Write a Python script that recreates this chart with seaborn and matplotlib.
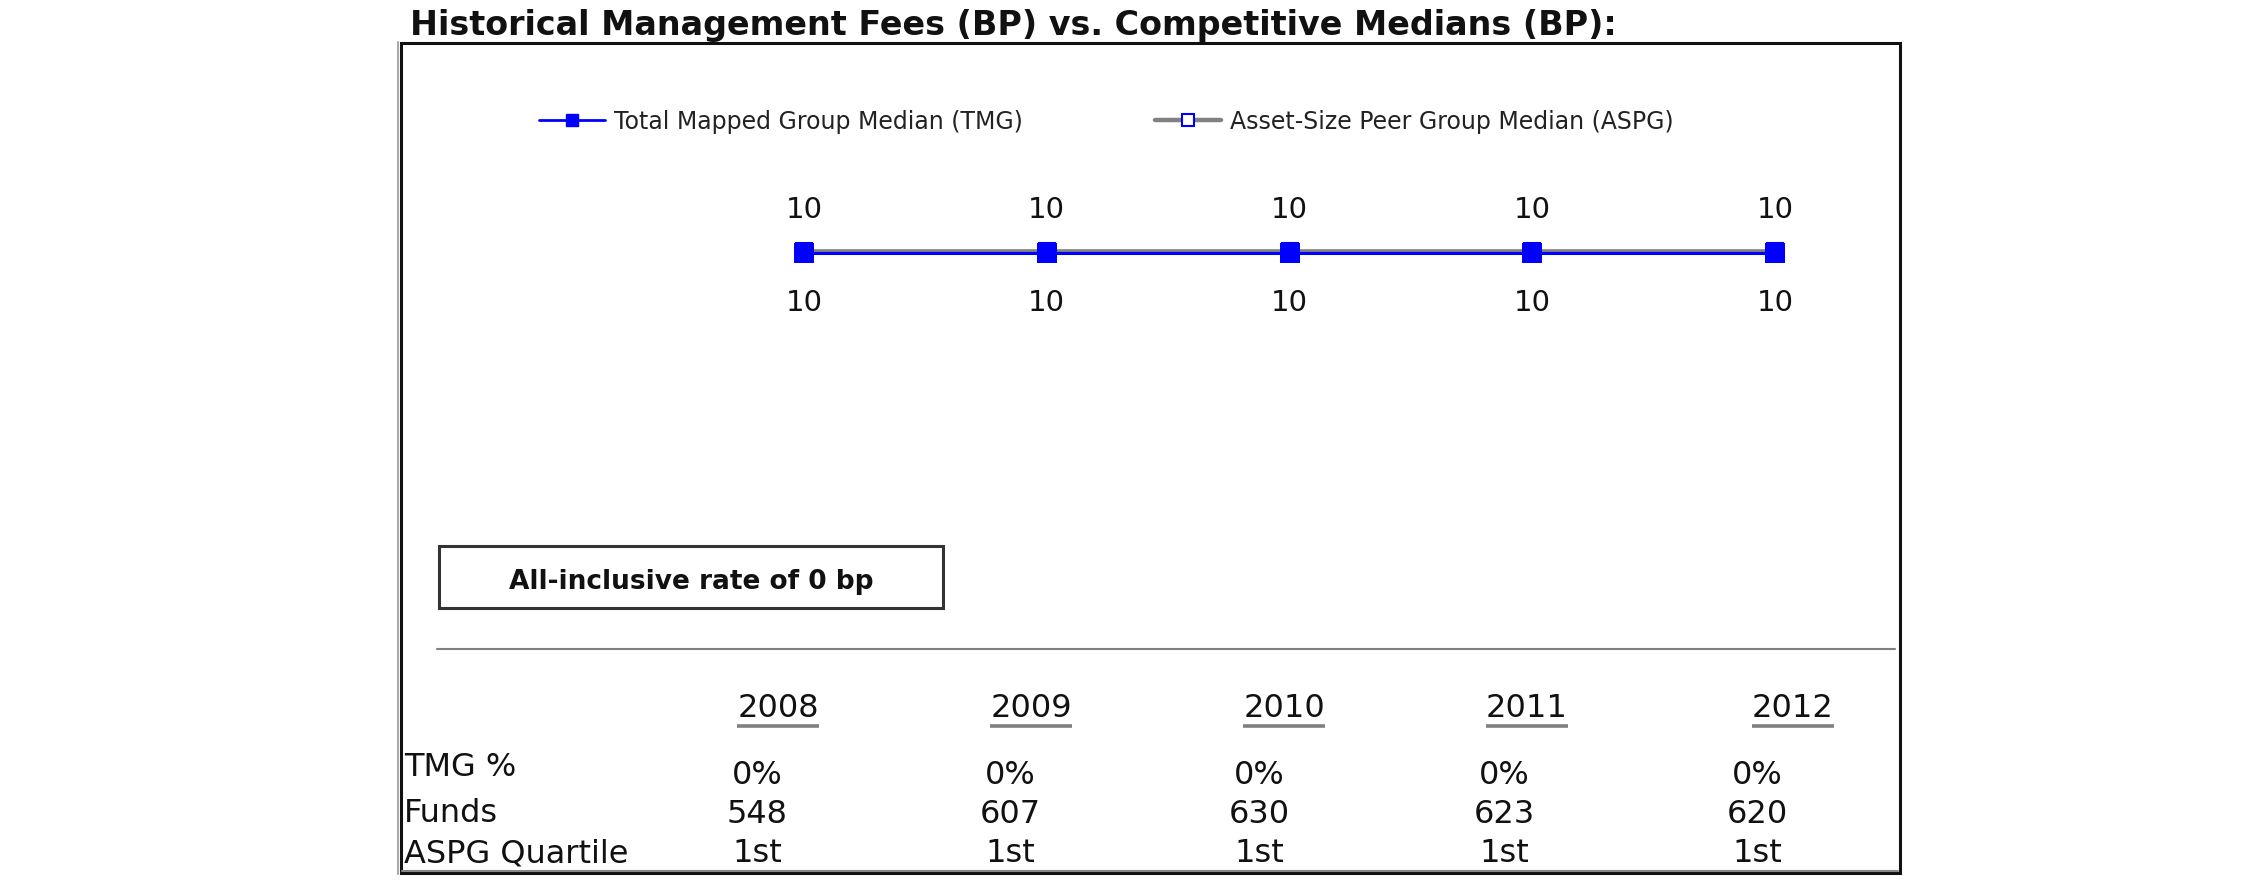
import matplotlib
matplotlib.use("Agg")
import matplotlib.pyplot as plt
import matplotlib.transforms as mtransforms
import seaborn as sns
import pandas as pd
from matplotlib.patches import Rectangle
from matplotlib.lines import Line2D

# ---------------- data ----------------
years = ["2008", "2009", "2010", "2011", "2012"]
tmg_median = [10, 10, 10, 10, 10]
aspg_median = [10, 10, 10, 10, 10]
tmg_pct = ["0%", "0%", "0%", "0%", "0%"]
funds = [548, 607, 630, 623, 620]
aspg_quartile = ["1st", "1st", "1st", "1st", "1st"]
all_inclusive_bp = 0
row_labels = ["TMG %", "Funds", "ASPG Quartile"]
title = "Historical Management Fees (BP) vs. Competitive Medians (BP):"
legend_labels = ["Total Mapped Group Median (TMG)", "Asset-Size Peer Group Median (ASPG)"]

# ---------------- setup ----------------
sns.set_theme(style="white")
plt.rcParams["font.family"] = ["DejaVu Sans"]

W, H = 2250, 895
fig = plt.figure(figsize=(W / 100, H / 100), dpi=100)
fig.patch.set_facecolor("white")


def fx(x):
    return x / W


def fy(y):
    return 1 - y / H


BLUE = "#0000ff"
GRAY = "#808080"

# ---------------- chart axes ----------------
x0, x1, yline = 804, 1775, 254
ax = fig.add_axes([fx(x0), fy(yline) - 0.1, fx(x1) - fx(x0), 0.2])

df = pd.DataFrame({"pos": range(len(years)), "year": years,
                   "TMG": tmg_median, "ASPG": aspg_median})

sns.lineplot(data=df, x="pos", y="ASPG", ax=ax, color=GRAY, linewidth=2.6,
             marker="s", markersize=12, markerfacecolor="white",
             markeredgecolor=BLUE, markeredgewidth=1.5, clip_on=False,
             zorder=2)
ax.lines[-1].set_transform(mtransforms.offset_copy(ax.transData, fig=fig,
                                                   x=0, y=1.6, units="dots"))
sns.lineplot(data=df, x="pos", y="TMG", ax=ax, color=BLUE, linewidth=2.2,
             marker="s", markersize=15, markerfacecolor=BLUE,
             markeredgecolor=BLUE, markeredgewidth=0, clip_on=False,
             zorder=3)
ax.set_xlim(0, len(years) - 1)
ax.set_ylim(9, 11)
ax.axis("off")
if ax.get_legend() is not None:
    ax.get_legend().remove()

for i, (t, a) in enumerate(zip(tmg_median, aspg_median)):
    ax.annotate(f"{t}", (i, t), xytext=(0, 31.5), textcoords="offset points",
                ha="center", va="center", fontsize=21, color="#111111")
    ax.annotate(f"{a}", (i, a), xytext=(0, -35), textcoords="offset points",
                ha="center", va="center", fontsize=21, color="#111111")

# ---------------- legend ----------------
handles = [
    Line2D([], [], color=BLUE, lw=2.0, marker="s", markersize=8,
           markerfacecolor=BLUE, markeredgecolor=BLUE),
    Line2D([], [], color=GRAY, lw=3.2, marker="s", markersize=8,
           markerfacecolor="white", markeredgecolor=BLUE, markeredgewidth=1.5),
]
leg_fs = 17
fs_px = leg_fs * 100 / 72
fig.legend(handles, legend_labels, loc="center left",
           bbox_to_anchor=(fx(539), fy(122)), ncol=2, frameon=False,
           fontsize=leg_fs, handlelength=66 / fs_px, handletextpad=9 / fs_px,
           columnspacing=132 / fs_px, borderpad=0, borderaxespad=0,
           labelcolor="#222222")

# ---------------- title ----------------
fig.text(fx(410), fy(25), title, fontsize=24, fontweight="bold",
         ha="left", va="center", color="#111111")

# ---------------- outer frame ----------------
fig.add_artist(Line2D([fx(397.5), fx(397.5)], [fy(43), fy(875)],
                      transform=fig.transFigure, color="#aaaaaa", lw=1.5))
fig.add_artist(Rectangle((fx(400.5), fy(873.5)), fx(1900) - fx(400.5),
                         fy(44) - fy(873.5), transform=fig.transFigure,
                         fill=False, edgecolor="#111111", lw=2.2))
fig.add_artist(Line2D([fx(402), fx(1898)], [fy(871.5), fy(871.5)],
                      transform=fig.transFigure, color="#888888", lw=1.5))

# ---------------- rate box ----------------
fig.add_artist(Rectangle((fx(439), fy(609)), fx(943) - fx(439),
                         fy(547) - fy(609), transform=fig.transFigure,
                         fill=False, edgecolor="#333333", lw=2.2))
fig.text(fx(691), fy(582), f"All-inclusive rate of {all_inclusive_bp} bp",
         fontsize=19, fontweight="bold", ha="center", va="center",
         color="#111111")

# ---------------- separator ----------------
fig.add_artist(Line2D([fx(437), fx(1895)], [fy(650), fy(650)],
                      transform=fig.transFigure, color=GRAY, lw=1.5))

# ---------------- table ----------------
year_x = [778, 1031, 1284, 1527, 1793]
val_x = [757, 1010, 1259, 1504, 1757]
tbl_fs = 23

fig.canvas.draw()
renderer = fig.canvas.get_renderer()
for yr, xc in zip(years, year_x):
    t = fig.text(fx(xc), fy(709), yr, fontsize=tbl_fs, ha="center",
                 va="center", color="#111111")
    bb = t.get_window_extent(renderer)
    fig.add_artist(Line2D([bb.x0 / W, bb.x1 / W], [fy(727), fy(727)],
                          transform=fig.transFigure, color=GRAY, lw=2.6,
                          solid_capstyle="butt"))

row_y = [767, 814, 854]
val_y = [776, 815, 854]
for lab, yy in zip(row_labels, row_y):
    fig.text(fx(404), fy(yy), lab, fontsize=tbl_fs, ha="left", va="center",
             color="#111111")

rows = [tmg_pct, [str(f) for f in funds], aspg_quartile]
for vals, yy in zip(rows, val_y):
    for v, xc in zip(vals, val_x):
        fig.text(fx(xc), fy(yy), v, fontsize=tbl_fs, ha="center",
                 va="center", color="#111111")

fig.savefig("out.png", dpi=100, facecolor="white")
